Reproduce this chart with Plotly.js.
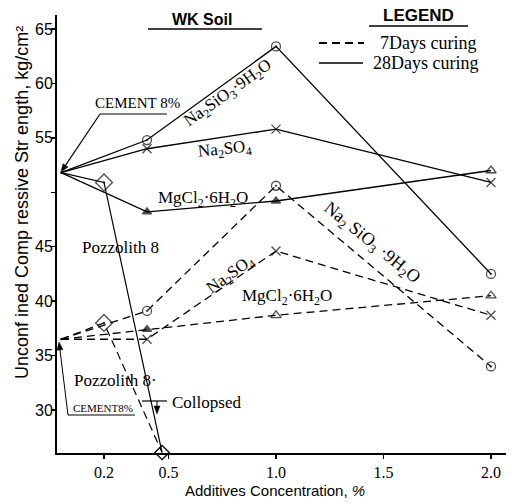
<!DOCTYPE html>
<html><head><meta charset="utf-8">
<script src="https://cdn.plot.ly/plotly-3.0.1.min.js"></script>
<style>body{margin:0;background:#fff}#c{width:512px;height:504px}</style>
</head><body><div id="c"></div>
<script>
// ---- data ----
const conc = [0, 0.4, 1.0, 2.0];
const concPozz = [0, 0.2, 0.47];
const siO3_28 = [51.8, 54.8, 63.4, 42.5];
const so4_28  = [51.8, 54.0, 55.8, 50.9];
const mgcl_28 = [51.8, 48.2, 49.2, 52.0];
const pozz_28 = [51.8, 50.9, 26.1];
const siO3_7  = [36.5, 39.1, 50.6, 34.0];
const so4_7   = [36.5, 36.5, 44.6, 38.7];
const mgcl_7  = [36.5, 37.4, 38.7, 40.5];
const pozz_7  = [36.5, 38.0, 26.1];
const xTickVals = [0.2, 0.5, 1.0, 1.5, 2.0];
const xTickText = ['0.2', '0.5', '1.0', '1.5', '2.0'];
const yTickVals = [30, 35, 40, 45, 55, 60, 65];
const yTickText = ['30', '35', '40', '45', '55', '60', '65'];
const yMinorTicks = [50];

// ---- geometry ----
const L = 57, R = 506, T = 15, B = 453;
const px = v => (v - L) / (R - L);
const py = v => (B - v) / (B - T);
const SERIF = 'Liberation Serif, Times New Roman, serif';
const SANS = 'Liberation Sans, Arial, sans-serif';
const DASH = '8px,5px';

function tr(x, y, dash, symbols, sizes, lw) {
  return {
    x: x, y: y, type: 'scatter', mode: 'lines+markers', showlegend: false,
    cliponaxis: false,
    line: {color: '#000', width: lw, dash: dash},
    marker: {symbol: symbols, size: sizes, color: '#000',
             line: {color: '#000', width: 1.3}}
  };
}
const data = [
  tr(conc, siO3_28, 'solid', 'circle-open-dot', [0, 9, 9, 9], 1.3),
  tr(conc, so4_28, 'solid', 'x-thin-open', [0, 9, 9, 9], 1.3),
  tr(conc, mgcl_28, 'solid', ['triangle-up', 'triangle-up', 'triangle-up', 'triangle-up-open'], [0, 8, 8, 9], 1.3),
  tr(concPozz, pozz_28, 'solid', ['diamond', 'diamond-open-dot', 'diamond-open'], [0, 13, 11], 1.2),
  tr(conc, siO3_7, DASH, 'circle-open-dot', [0, 9, 9, 9], 1.3),
  tr(conc, so4_7, DASH, 'x-thin-open', [0, 9, 9, 9], 1.3),
  tr(conc, mgcl_7, DASH, ['triangle-up', 'triangle-up', 'triangle-up-open', 'triangle-up-open'], [0, 8, 9, 9], 1.3),
  tr(concPozz, pozz_7, DASH, ['diamond', 'diamond-open-dot', 'diamond-open'], [0, 13, 11], 1.2)
];

function line(x0, y0, x1, y1, w, dash) {
  return {type: 'line', xref: 'paper', yref: 'paper', x0: px(x0), y0: py(y0), x1: px(x1), y1: py(y1),
          line: {color: '#000', width: w, dash: dash || 'solid'}};
}
// arrow drawn as a line plus a small filled head (pixel space -> paper)
function arrowShapes(fx, fy, tx, ty, w) {
  const dx = tx - fx, dy = ty - fy, len = Math.hypot(dx, dy);
  const ux = dx / len, uy = dy / len, hl = 8, hw = 3;
  const bx = tx - ux * hl, by = ty - uy * hl;
  const p1 = [bx - uy * hw, by + ux * hw], p2 = [bx + uy * hw, by - ux * hw];
  const path = 'M' + px(tx) + ',' + py(ty) + ' L' + px(p1[0]) + ',' + py(p1[1]) +
               ' L' + px(p2[0]) + ',' + py(p2[1]) + ' Z';
  return [line(fx, fy, bx, by, w),
          {type: 'path', xref: 'paper', yref: 'paper', path: path,
           fillcolor: '#000', line: {color: '#000', width: 0.5}}];
}
const shapes = [
  line(148, 29, 262, 29, 1.5),
  line(369, 26, 468, 26, 1.5),
  line(319, 43, 364, 43, 2, DASH),
  line(319, 63, 363, 63, 1.5),
  line(100, 114, 167, 114, 1.2),
  line(68, 415, 135, 415, 1),
  line(142, 401, 167, 401, 1.2)
].concat(
  arrowShapes(100, 114, 61, 172, 1.2),
  arrowShapes(68, 415, 59, 342, 1),
  arrowShapes(157, 401, 157, 414, 1)
);

function txt(s, x, y, size, fam, angle) {
  return {text: s, xref: 'paper', yref: 'paper', x: px(x), y: py(y),
    xanchor: 'center', yanchor: 'middle', showarrow: false, textangle: angle || 0,
    font: {family: fam, size: size, color: '#000'}};
}
const annotations = [
  txt('<b>WK Soil</b>', 202, 19, 16, SANS),
  txt('<b>LEGEND</b>', 418, 16, 17, SANS),
  txt('7Days curing', 428, 43, 18, SERIF),
  txt('28Days curing', 425, 63, 18, SERIF),
  txt('CEMENT 8%', 137, 103, 15, SERIF),
  txt('Na<sub>2</sub>SiO<sub>3</sub>·9H<sub>2</sub>O', 228, 94, 17, SERIF, -35.5),
  txt('Na<sub>2</sub>SO<sub>4</sub>', 225, 150, 17, SERIF, -6),
  txt('MgCl<sub>2</sub>·6H<sub>2</sub>O', 203, 199, 17, SERIF),
  txt('Pozzolith 8', 120, 247, 17, SERIF),
  txt('Na<sub>2</sub>SO<sub>4</sub>', 231, 275, 17, SERIF, -36),
  txt('MgCl<sub>2</sub>·6H<sub>2</sub>O', 287, 297, 17, SERIF),
  txt('Na<sub>2</sub> SiO<sub>3</sub> ·9H<sub>2</sub>O', 372, 243, 18, SERIF, 39),
  txt('Pozzolith 8·', 115, 380, 17, SERIF),
  txt('CEMENT8%', 103, 408, 11, SERIF),
  txt('Collopsed', 206, 402, 17, SERIF),
  txt('Unconf ined Comp ressive Str ength, kg/cm²', 22, 203, 18, SANS, -90),
  txt('Additives Concentration, <i>%</i>', 275, 490, 15, SANS)
];

const layout = {
  width: 512, height: 504,
  margin: {l: L, r: 512 - R, t: T, b: 504 - B, pad: 0},
  paper_bgcolor: '#fff', plot_bgcolor: '#fff',
  showlegend: false,
  xaxis: {range: [-0.0186, 2.0698], tickvals: xTickVals, ticktext: xTickText,
    ticks: 'outside', ticklen: 4, tickwidth: 1.5, tickcolor: '#000',
    showline: true, linewidth: 2, linecolor: '#000', showgrid: false, zeroline: false,
    tickfont: {family: SERIF, size: 16, color: '#000'}},
  yaxis: {range: [26.05, 66.286], tickvals: yTickVals, ticktext: yTickText,
    ticks: 'outside', ticklen: 4, tickwidth: 1.5, tickcolor: '#000',
    ticklabelstandoff: -5,
    minor: {tickvals: yMinorTicks, ticks: 'outside', ticklen: 4, tickwidth: 1.5, tickcolor: '#000', showgrid: false},
    showline: true, linewidth: 2, linecolor: '#000', showgrid: false, zeroline: false,
    tickfont: {family: SANS, size: 16, color: '#000'}},
  shapes: shapes,
  annotations: annotations
};
Plotly.newPlot('c', data, layout, {staticPlot: true, displayModeBar: false});
</script>
</body></html>
